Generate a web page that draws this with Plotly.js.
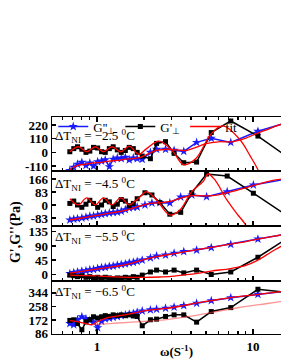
<!DOCTYPE html>
<html><head><meta charset="utf-8">
<script src="https://cdn.plot.ly/plotly-3.0.1.min.js"></script>
<style>html,body{margin:0;padding:0;overflow:hidden;background:#fff}#chart{width:300px;height:363px}</style>
</head><body><div id="chart"></div>
<script>
// ---- data ----
const xDense = [0.67,0.71,0.75,0.80,0.85,0.90,0.95,1.01,1.07,1.13,1.20,1.27,1.35,1.43,1.52,1.61,1.71,1.81];
const xSparseA = [1.95,2.2,2.41,2.75,3.12,3.6,4.35,5.4,7.2,10.75,17];
const xSparseB = [2.03,2.25,2.53,2.93,3.44,4.05,5.04,6.83,10.05,17];

// panel 1 : dT = -2.5
const gp1  = [5,30,45,25,0,10,40,35,5,0,30,45,20,0,15,40,30,0, -30,-51,72,86,-8,-83,-78,159,252,131,-46];
const gpp1 = [-145,-120,-95,-80,-105,-85,-110,-75,-70,-60,-115,-55,-45,-50,-40,-60,-45,-50, -56,0,24,24,16,8,80,113,80,169,244];
// panel 2 : dT = -4.5
const gp2  = [10,25,0,-15,5,30,10,-15,0,30,20,-10,5,35,25,-5,10,40, 78,64,15,-59,-47,78,198,185,75,-77];
const gpp2 = [-96,-90,-88,-83,-78,-72,-70,-64,-60,-55,-51,-48,-45,-40,-30,-19,-15,-13, 0,13,15,13,51,64,53,85,128,169];
// panel 3 : dT = -5.5
const gp3  = [-3,-5,-8,-5,-10,-8,-12,-10,-13,-10,-12,-15,-12,-13,-10,-12,-8,-10, -3,7,13,7,13,4,13,-1,7,54,118];
const gpp3 = [2,5,7,10,11,14,15,18,21,22,25,26,29,31,33,36,38,41, 45,52,58,61,67,72,77,85,95,112,130];
// panel 4 : dT = -6.5
const gp4  = [170,174,150,111,161,175,193,185,193,200,195,205,200,205,200,205,198,195, 136,174,178,195,205,205,159,226,251,367,345];
const gpp4 = [150,143,175,193,180,170,160,124,165,180,185,190,195,200,205,210,215,222, 230,237,241,247,254,264,279,295,314,335,358];

// fits
const fitX1p  = [0.67,0.76,0.86,0.975,1.1,1.25,1.42,1.61,1.85,2.08,2.5,3.05,3.6,4.3,5.4,6.4,8.2,9.6,10.75,12];
const fitY1p  = [5,45,5,45,5,45,5,50,-15,30,90,10,-100,-50,150,212,105,-30,-140,-300];
const fitX1pp = [0.67,0.75,0.85,0.95,1.07,1.2,1.35,1.52,1.7,1.9,2.1,2.4,2.8,3.2,3.7,4.3,5.0,6.0,7.3,9.0,11,14,17];
const fitY1pp = [-140,-105,-95,-85,-80,-70,-65,-55,-50,-40,-15,15,25,20,15,40,70,85,85,115,160,210,250];
const fitX2p  = [0.67,0.76,0.86,0.975,1.1,1.25,1.42,1.61,1.75,1.89,2.08,2.41,2.93,3.4,4.05,4.78,5.15,5.7,6.8,7.85,9.1,9.8];
const fitY2p  = [40,0,45,0,45,0,45,0,25,53,85,32,-64,-32,85,149,198,160,32,-53,-138,-250];
const fitX2pp = [0.67,0.75,0.85,0.95,1.07,1.2,1.35,1.52,1.7,1.9,2.2,2.6,3.0,3.5,4.1,5.0,6.0,7.3,9.0,11,14,17];
const fitY2pp = [-96,-88,-80,-70,-62,-52,-45,-35,-20,-5,10,15,25,45,60,58,65,85,110,135,160,170];
const fitX3p  = [0.67,0.9,1.2,1.6,2.0,2.5,3.0,3.5,4.3,5.4,7.2,9,10.75,13,15,17];
const fitY3p  = [-3,-5,-8,-10,-10,-9,-7,-3,2,10,18,28,45,70,88,105];
const fitX3pp = [0.67,0.8,1.0,1.2,1.5,1.9,2.4,3.0,3.7,4.6,5.8,7.2,9,11,14,17];
const fitY3pp = [3,9,16,22,30,43,56,64,72,80,88,96,104,113,122,130];
const fitX4a  = [0.67,0.75,0.85,0.93,1.0,1.16,1.4,1.7,2.0,2.5,3.0,3.6,4.3,5.4,7.2,10.8,15,17];
const fitY4a  = [168,162,150,143,160,186,200,215,230,241,250,264,279,295,314,335,352,358];
const fitX4b  = [0.93,1.2,1.6,2.0,2.6,3.3,4.5,6.0,8.0,11,15,17];
const fitY4b  = [143,150,158,163,172,185,205,228,250,270,289,300];

// axis ticks
const yTicks1 = [-110,0,110,220], yText1 = ['-110','0','110','220'];
const yTicks2 = [-83,0,83,166],   yText2 = ['-83','0','83','166'];
const yTicks3 = [0,45,90,135],    yText3 = ['0','45','90','135'];
const yTicks4 = [86,172,258,344], yText4 = ['86','172','258','344'];
const dTlabels = ['−2.5','−4.5','−5.5','−6.5'];
const names = {gpp:"G''<sub>⊥</sub>", gp:"G'<sub>⊥</sub>", fit:'fit'};

// ---- build ----
const omegaA = xDense.concat(xSparseA);
const omegaB = xDense.concat(xSparseB);
const BLUE = '#1a1aff', RED = '#ff0000', BLACK = '#000000';
const traces = [];
function data(k, x, gpp, gp, show){
  traces.push({x:x, y:gpp, xaxis:'x'+(k>1?k:''), yaxis:'y'+(k>1?k:''), mode:'lines+markers', name:names.gpp,
    showlegend:show, line:{color:BLUE,width:1.5}, marker:{symbol:'star',size:7,color:BLUE}, cliponaxis:true});
  traces.push({x:x, y:gp, xaxis:'x'+(k>1?k:''), yaxis:'y'+(k>1?k:''), mode:'lines+markers', name:names.gp,
    showlegend:show, line:{color:BLACK,width:1.5}, marker:{symbol:'square',size:5,color:BLACK}, cliponaxis:true});
}
function fit(k, x, y, show, col){
  traces.push({x:x, y:y, xaxis:'x'+(k>1?k:''), yaxis:'y'+(k>1?k:''), mode:'lines', name:names.fit,
    showlegend:show, line:{color:col||RED,width:1.3,shape:'spline',smoothing:1}});
}
data(1, omegaA, gpp1, gp1, true);
data(2, omegaB, gpp2, gp2, false);
data(3, omegaA, gpp3, gp3, false);
data(4, omegaA, gpp4, gp4, false);
fit(1, fitX1pp, fitY1pp, true); fit(1, fitX1p, fitY1p, false);
fit(2, fitX2pp, fitY2pp, false); fit(2, fitX2p, fitY2p, false);
fit(3, fitX3pp, fitY3pp, false); fit(3, fitX3p, fitY3p, false);
fit(4, fitX4a, fitY4a, false); fit(4, fitX4b, fitY4b, false, 'rgba(255,60,60,0.55)');

const FONT = 'Liberation Serif, Times New Roman, serif';
const tickFont = {family:FONT, size:13, color:'#000', weight:'bold'};
function xa(anchor, labels, mirror){
  return {type:'log', range:[Math.log10(0.515), Math.log10(20)], anchor:anchor,
    tickvals:[1,10], ticktext:['1','10'], showticklabels:labels, ticks:'inside', ticklen:5, tickwidth:1.2,
    tickcolor:'#000', minor:{tickvals:[0.6,0.7,0.8,0.9,2,3,4,5,6,7,8,9,20], ticks:'inside', ticklen:3, tickcolor:'#000'},
    showline:true, linecolor:'#000', linewidth:1.3, mirror:mirror, showgrid:false, zeroline:false, tickfont:tickFont};
}
function ya(dom, range, tv, tt){
  return {domain:dom, range:range, tickvals:tv, ticktext:tt, ticks:'inside', ticklen:4, tickwidth:1.2, tickcolor:'#000',
    showline:true, linecolor:'#000', linewidth:1.3, mirror:'ticks', showgrid:false, zeroline:false, tickfont:tickFont};
}
const b = [0, 0.244, 0.498, 0.751, 1];
const ann = [];
const annY = [0.912, 0.691, 0.447, 0.194];
for (let i=0;i<4;i++){
  ann.push({xref:'paper', yref:'paper', x:0.005, y:annY[i], xanchor:'left', yanchor:'middle', showarrow:false,
    text:'ΔT<sub>NI</sub> = '+dTlabels[i]+' <sup>0</sup>C', font:{family:FONT, size:13, color:'#000'}});
}
ann.push({xref:'paper', yref:'paper', x:-0.145, y:0.47, textangle:-90, showarrow:false, xanchor:'center', yanchor:'middle',
  text:"G',G''(Pa)", font:{family:FONT, size:14, color:'#000', weight:'bold'}});
ann.push({xref:'paper', yref:'paper', x:0.5, y:-0.078, showarrow:false, xanchor:'center', yanchor:'middle',
  text:'ω(S<sup>-1</sup>)', font:{family:FONT, size:13, color:'#000', weight:'bold'}});

const layout = {
  width:300, height:363, margin:{l:52, r:0, t:117, b:29},
  paper_bgcolor:'#fff', plot_bgcolor:'#fff', font:{family:FONT, color:'#000'},
  xaxis: xa('y', false, 'ticks'),
  xaxis2: xa('y2', false, true),
  xaxis3: xa('y3', false, true),
  xaxis4: xa('y4', true, true),
  yaxis: ya([b[3],b[4]], [-150,284], yTicks1, yText1),
  yaxis2: ya([b[2],b[3]], [-134,217], yTicks2, yText2),
  yaxis3: ya([b[1],b[2]], [-22,154], yTicks3, yText3),
  yaxis4: ya([b[0],b[1]], [84,419], yTicks4, yText4),
  legend:{x:0.005, y:1.025, xanchor:'left', yanchor:'top', orientation:'h', bgcolor:'rgba(0,0,0,0)',
    font:{family:FONT, size:13, color:'#000'}, itemwidth:30, traceorder:'normal'},
  annotations: ann, showlegend:true
};
Plotly.newPlot('chart', traces, layout, {staticPlot:true, displayModeBar:false});
</script></body></html>
